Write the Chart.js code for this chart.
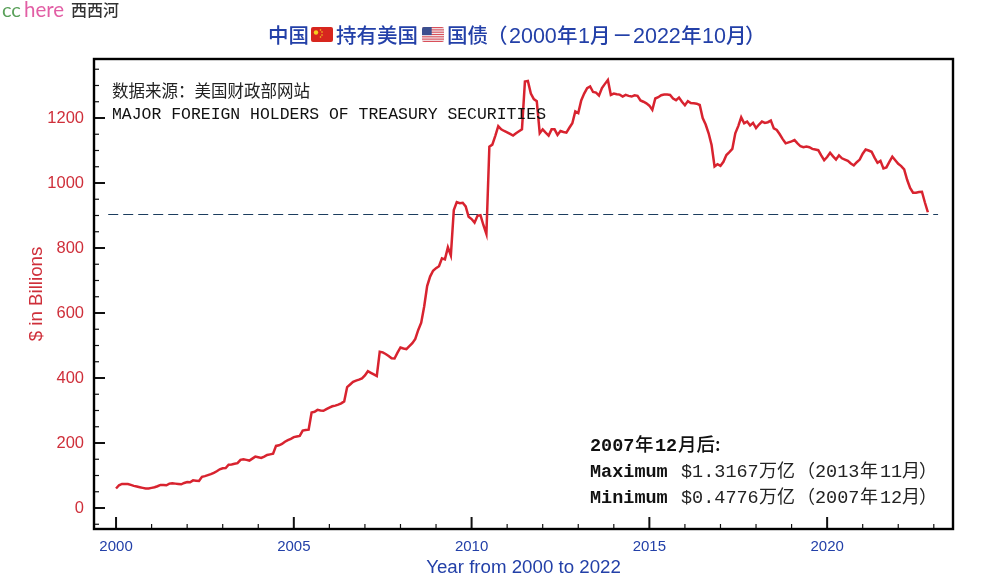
<!DOCTYPE html>
<html><head><meta charset="utf-8">
<style>html,body{margin:0;padding:0;background:#fff}canvas{display:block}</style>
<script src="https://cdn.jsdelivr.net/npm/chart.js@4"></script>
</head><body><canvas id="c" width="1000" height="588"></canvas>
<script>
const startYear = 2000;
const y2000 = [60,70,74,74,74,71,68,66,64,62,60,60];
const y2001 = [62,64,67,71,71,70,75,76,75,74,73,77];
const y2002 = [80,79,85,84,83,96,98,101,104,108,113,119];
const y2003 = [122,123,133,134,136,138,148,150,148,146,152,158];
const y2004 = [156,154,158,163,165,167,191,193,197,204,209,213];
const y2005 = [218,220,222,238,240,241,294,296,302,300,299,304];
const y2006 = [309,313,315,318,322,328,372,380,388,392,395,399];
const y2007 = [408,421,416,411,406,481,479,474,468,461,460,478];
const y2008 = [494,491,489,498,507,520,548,570,620,683,712,730];
const y2009 = [738,744,768,765,802,777,917,941,938,939,928,896];
const y2010 = [889,878,899,901,870,843,1112,1118,1145,1175,1165,1160];
const y2011 = [1156,1151,1146,1153,1159,1165,1312,1314,1275,1258,1252,1153];
const y2012 = [1165,1155,1146,1165,1165,1148,1160,1157,1155,1170,1184,1220];
const y2013 = [1215,1254,1275,1292,1297,1280,1278,1269,1292,1305,1317,1271];
const y2014 = [1275,1273,1272,1266,1271,1268,1266,1270,1268,1254,1250,1245];
const y2015 = [1238,1225,1260,1264,1270,1272,1272,1271,1260,1255,1263,1250];
const y2016 = [1239,1252,1246,1245,1244,1240,1200,1180,1153,1117,1051,1058];
const y2017 = [1053,1065,1086,1095,1105,1153,1175,1202,1184,1189,1177,1185];
const y2018 = [1169,1180,1189,1185,1187,1192,1168,1163,1150,1135,1122,1125];
const y2019 = [1128,1132,1122,1113,1110,1112,1110,1105,1103,1101,1085,1070];
const y2020 = [1080,1093,1082,1072,1085,1076,1072,1068,1060,1054,1064,1072];
const y2021 = [1090,1103,1100,1096,1078,1062,1068,1045,1048,1065,1081,1070];
const y2022 = [1059,1052,1042,1010,985,970,970,972,973,940,910];
const holdings = [].concat(y2000,y2001,y2002,y2003,y2004,y2005,y2006,y2007,y2008,y2009,y2010,y2011,y2012,y2013,y2014,y2015,y2016,y2017,y2018,y2019,y2020,y2021,y2022);
const refX = [1999.78, 2023.12];
const refY = [903, 903];
const xTickYears = [2000,2001,2002,2003,2004,2005,2006,2007,2008,2009,2010,2011,2012,2013,2014,2015,2016,2017,2018,2019,2020,2021,2022,2023];
const yTickValues = [-50,0,50,100,150,200,250,300,350,400,450,500,550,600,650,700,750,800,850,900,950,1000,1050,1100,1150,1200,1250,1300,1350];

const SANS='"Liberation Sans",Arial,sans-serif', CJK='"Noto Sans CJK SC",sans-serif', MONO='"Liberation Mono",monospace';
const BLUE='#2340a8', RED='#cf2f3a';

function seg(ctx,x,y,t,font,col){ctx.font=font;ctx.fillStyle=col;ctx.fillText(t,x,y);}
function flagCN(ctx,x,y,w,h){
  ctx.fillStyle='#d7261e';ctx.beginPath();ctx.roundRect(x,y,w,h,2);ctx.fill();
  ctx.fillStyle='#f5d020';ctx.beginPath();ctx.arc(x+5,y+5.5,2.2,0,7);ctx.fill();
  [[9.5,3],[11,5],[11,8],[9.5,10]].forEach(p=>{ctx.beginPath();ctx.arc(x+p[0],y+p[1],.8,0,7);ctx.fill();});
}
function flagUS(ctx,x,y,w,h){
  ctx.save();ctx.beginPath();ctx.roundRect(x,y,w,h,2);ctx.clip();
  ctx.fillStyle='#f3f3f5';ctx.fillRect(x,y,w,h);
  ctx.fillStyle='#d9505a';
  for(let i=0;i<7;i++)ctx.fillRect(x,y+i*h/6.5,w,h/13);
  ctx.fillStyle='#3c4f8f';ctx.fillRect(x,y,w*.44,h*.54);
  ctx.restore();
}
const decor={id:'decor',
  afterDatasetsDraw(chart){
    const ctx=chart.ctx,a=chart.chartArea,sx=chart.scales.x,sy=chart.scales.y;
    ctx.save();
    ctx.strokeStyle='#111';
    sx.ticks.forEach(t=>{const p=sx.getPixelForValue(t.value),maj=t.value%5===0;
      ctx.lineWidth=maj?2:1.2;ctx.beginPath();ctx.moveTo(p,a.bottom);ctx.lineTo(p,a.bottom-(maj?12:5));ctx.stroke();});
    sy.ticks.forEach(t=>{const p=sy.getPixelForValue(t.value),maj=t.value%200===0;
      ctx.lineWidth=maj?2:1.2;ctx.beginPath();ctx.moveTo(a.left,p);ctx.lineTo(a.left+(maj?11:5),p);ctx.stroke();});
    ctx.strokeStyle='#000';ctx.lineWidth=2.4;ctx.strokeRect(a.left,a.top,a.right-a.left,a.bottom-a.top);
    ctx.textBaseline='alphabetic';ctx.textAlign='left';
    seg(ctx,2,17,'cc','400 20px Lato,sans-serif','#5aa05a');
    seg(ctx,24,17,'here','400 20.5px Lato,sans-serif','#e25fa5');
    seg(ctx,71,16,'西西河','500 16px '+CJK,'#333');
    const tf='500 20.5px '+CJK, tn='21.5px '+SANS;
    seg(ctx,268,43,'中国',tf,BLUE);
    flagCN(ctx,311,27,22,15);
    seg(ctx,336,43,'持有美国',tf,BLUE);
    flagUS(ctx,422,27,22,15);
    seg(ctx,447,43,'国债',tf,BLUE);
    seg(ctx,487,43,'（',tf,BLUE);
    seg(ctx,509,43,'2000',tn,BLUE);
    seg(ctx,557,43,'年',tf,BLUE);
    seg(ctx,578,43,'1',tn,BLUE);
    seg(ctx,590,43,'月',tf,BLUE);
    seg(ctx,612,43,'－',tf,BLUE);
    seg(ctx,633,43,'2022',tn,BLUE);
    seg(ctx,681,43,'年',tf,BLUE);
    seg(ctx,702,43,'10',tn,BLUE);
    seg(ctx,726,43,'月',tf,BLUE);
    seg(ctx,745,43,'）',tf,BLUE);
    seg(ctx,112,97,'数据来源：美国财政部网站','16.5px '+CJK,'#222');
    seg(ctx,112,119,'MAJOR FOREIGN HOLDERS OF TREASURY SECURITIES','16.45px '+MONO,'#111');
    const mb='bold 18.5px '+MONO, mr='18.5px '+MONO, cj='18px '+CJK, cb='500 18.5px '+CJK;
    seg(ctx,590,451,'2007',mb,'#111');seg(ctx,635,451,'年',cb,'#111');seg(ctx,655,451,'12',mb,'#111');seg(ctx,678,451,'月后:',cb,'#111');
    [['Maximum','$1.3167','2013','11',477],['Minimum','$0.4776','2007','12',503]].forEach(r=>{
      const y=r[4];
      seg(ctx,590,y,r[0],mb,'#111');seg(ctx,681,y,r[1],mr,'#222');
      seg(ctx,759,y,'万亿',cj,'#222');seg(ctx,797,y,'（',cj,'#222');
      seg(ctx,815,y,r[2],mr,'#222');seg(ctx,860,y,'年',cj,'#222');
      seg(ctx,880,y,r[3],mr,'#222');seg(ctx,902,y,'月',cj,'#222');seg(ctx,919,y,'）',cj,'#222');
    });
    ctx.restore();
  }
};
new Chart(document.getElementById('c'),{
  type:'line',
  data:{datasets:[
    {data:holdings.map((v,i)=>({x:startYear+i/12,y:v})),borderColor:'#d8232f',borderWidth:2.5,pointRadius:0,tension:0,order:1},
    {data:refX.map((x,i)=>({x:x,y:refY[i]})),borderColor:'#1c3d5e',borderWidth:1.2,borderDash:[10,5],pointRadius:0,tension:0,order:2}
  ]},
  options:{
    responsive:false,animation:false,devicePixelRatio:1,
    layout:{padding:{top:59,right:47,bottom:0,left:0}},
    plugins:{legend:{display:false},tooltip:{enabled:false}},
    scales:{
      x:{type:'linear',min:1999.38,max:2023.54,
        afterBuildTicks(s){s.ticks=xTickYears.map(v=>({value:v}));},
        afterFit(s){s.height=59;},
        grid:{display:false},border:{display:false},
        ticks:{autoSkip:false,maxRotation:0,padding:1,color:BLUE,font:{family:SANS,size:15},
          callback:v=>v%5===0?String(v):''},
        title:{display:true,text:'Year from 2000 to 2022',color:BLUE,font:{family:SANS,size:18.7},padding:{top:0,bottom:9}}},
      y:{type:'linear',min:-64.6,max:1381.5,
        afterBuildTicks(s){s.ticks=yTickValues.map(v=>({value:v}));},
        afterFit(s){s.width=94;},
        grid:{display:false},border:{display:false},
        ticks:{autoSkip:false,padding:2,color:RED,font:{family:SANS,size:16.5},
          callback:v=>v%200===0?String(v):''},
        title:{display:true,text:'$ in Billions',color:RED,font:{family:SANS,size:18.7},padding:{top:26,bottom:0}}}
    }
  },
  plugins:[decor]
});
</script></body></html>
